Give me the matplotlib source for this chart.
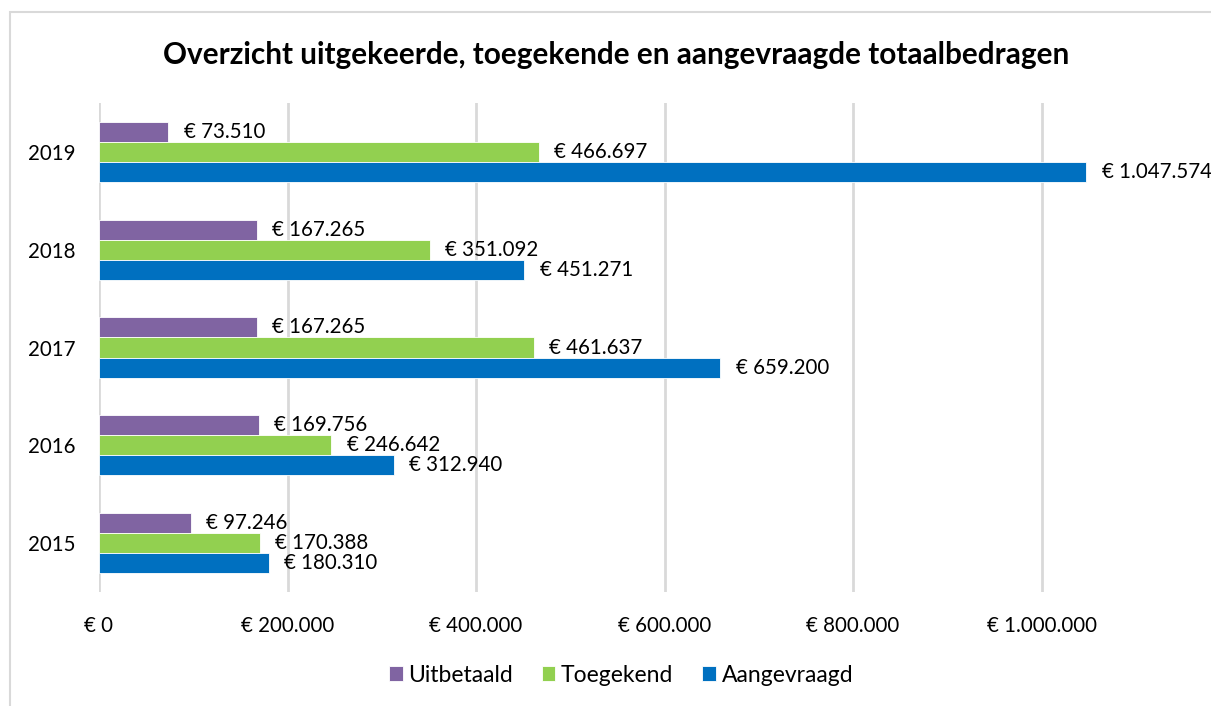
import matplotlib.pyplot as plt
from matplotlib.patches import Rectangle

plt.rcParams['font.family'] = ['Lato', 'DejaVu Sans']

years = ['2015', '2016', '2017', '2018', '2019']
uitbetaald = [97246, 169756, 167265, 167265, 73510]
toegekend = [170388, 246642, 461637, 351092, 466697]
aangevraagd = [180310, 312940, 659200, 451271, 1047574]
xticks = [0, 200000, 400000, 600000, 800000, 1000000]

purple = '#8064A2'
green = '#92D050'
blue = '#0070C0'
grid_col = '#D9D9D9'


def euro(v):
    return '€ ' + f'{v:,}'.replace(',', '.')


fig = plt.figure(figsize=(12.11, 7.06), dpi=100)
# chart border (right and bottom parts fall outside the picture)
fig.patches.append(Rectangle((10 / 1211, -0.05), 1.1, 1 - 12 / 706 + 0.05,
                             transform=fig.transFigure, fill=False,
                             edgecolor='#D9D9D9', linewidth=1.5))

ax = fig.add_axes([99 / 1211, 1 - 592 / 706, 1131 / 1211, 489 / 706])

h = 0.205
pos = list(range(len(years)))
series = [(uitbetaald, purple, 'Uitbetaald', h),
          (toegekend, green, 'Toegekend', 0),
          (aangevraagd, blue, 'Aangevraagd', -h)]

for vals, col, name, off in series:
    ys = [p + off for p in pos]
    ax.barh(ys, vals, height=h, color=col, label=name,
            edgecolor='white', linewidth=0.6, zorder=3)
    for y, v in zip(ys, vals):
        ax.annotate(euro(v), (v, y), xytext=(11, 0), textcoords='offset points',
                    ha='left', va='center', fontsize=14.8, color='#000000',
                    annotation_clip=False)

ax.set_xlim(0, 1200000)
ax.set_ylim(-0.5, 4.5)
ax.set_xticks(xticks)
ax.set_xticklabels([euro(v) for v in xticks])
ax.set_yticks(pos)
ax.set_yticklabels(years)
ax.tick_params(axis='both', length=0, labelsize=14.8, colors='#000000')
ax.tick_params(axis='x', pad=17)
ax.tick_params(axis='y', pad=17)
for s in ax.spines.values():
    s.set_visible(False)
ax.xaxis.grid(True, color=grid_col, linewidth=2, zorder=0)
ax.set_axisbelow(True)

fig.text(616 / 1211, 1 - 55 / 706, 'Overzicht uitgekeerde, toegekende en aangevraagde totaalbedragen',
         ha='center', va='center', fontsize=21.4, fontweight='bold')

fig.legend(loc='center', bbox_to_anchor=(621 / 1211, 1 - 675 / 706), ncol=3,
           frameon=False, fontsize=16.5, handlelength=0.6, handleheight=0.6,
           handletextpad=0.25, columnspacing=1.25)

fig.savefig('out.png', dpi=100)
